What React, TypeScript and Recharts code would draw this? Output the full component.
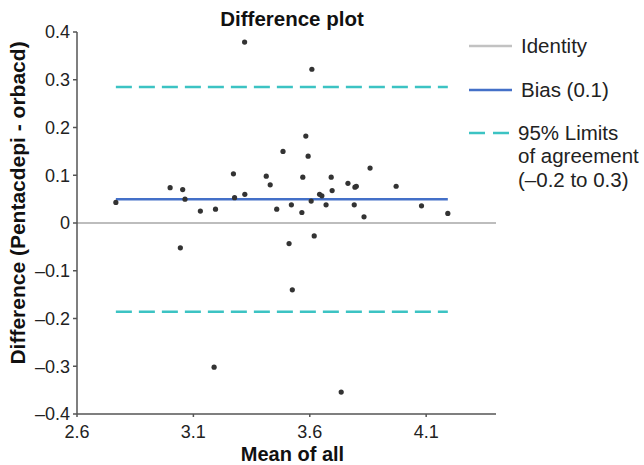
import { ScatterChart, Scatter, XAxis, YAxis, ReferenceLine, Legend, Label } from 'recharts';

// values
const meanOfAll = [
  2.767, 3.0, 3.054, 3.064, 3.13, 3.195, 3.272, 3.277, 3.321, 3.32,
  3.413, 3.43, 3.458, 3.485, 3.521, 3.566, 3.57, 3.583, 3.593, 3.606,
  3.609, 3.642, 3.652, 3.67, 3.692, 3.696, 3.764, 3.791, 3.794, 3.8,
  3.833, 3.859, 3.971, 4.08, 4.193, 3.044, 3.189, 3.511, 3.619, 3.525,
  3.735,
];
const difference = [
  0.043, 0.074, 0.07, 0.05, 0.025, 0.029, 0.103, 0.053, 0.06, 0.379,
  0.098, 0.08, 0.029, 0.15, 0.038, 0.022, 0.096, 0.182, 0.14, 0.046,
  0.322, 0.06, 0.057, 0.038, 0.096, 0.068, 0.083, 0.038, 0.075, 0.077,
  0.013, 0.115, 0.077, 0.036, 0.02, -0.052, -0.302, -0.043, -0.027, -0.14,
  -0.354,
];
const points = meanOfAll.map((x, i) => ({ x, y: difference[i] }));

const xTicks = [2.6, 3.1, 3.6, 4.1];
const yTicks = [-0.4, -0.3, -0.2, -0.1, 0, 0.1, 0.2, 0.3, 0.4];

const bias = 0.05;
const upperLimit = 0.285;
const lowerLimit = -0.186;
const lineStart = 2.767;
const lineEnd = 4.193;

const legendItems = [
  { lines: ['Identity'], color: '#c2c2c2', dash: undefined },
  { lines: ['Bias (0.1)'], color: '#4470c8', dash: undefined },
  { lines: ['95% Limits', 'of agreement', '(–0.2 to 0.3)'], color: '#3cc3c3', dash: '16 8' },
];

const FONT = '"Liberation Sans", Arial, Helvetica, sans-serif';

const fmtY = (v: number) => (v === 0 ? '0' : v < 0 ? '–' + Math.abs(v).toFixed(1) : v.toFixed(1));

const Dot = (props: any) => <circle cx={props.cx} cy={props.cy} r={2.6} fill="#333" />;

const LegendBox = () => (
  <svg width={644} height={465} style={{ fontFamily: FONT }}>
    <text x={292} y={26} textAnchor="middle" fontSize={20.5} fontWeight="bold" fill="#111">
      Difference plot
    </text>
    {legendItems.map((item, i) => {
      const ly = [46, 90, 133][i];
      const tx = i === 2 ? 518 : 521;
      return (
        <g key={i}>
          <line x1={469} x2={512} y1={ly} y2={ly} stroke={item.color} strokeWidth={2.5} strokeDasharray={item.dash} />
          {item.lines.map((t, j) => (
            <text key={j} x={tx} y={ly + 6.5 + j * 23.5} fontSize={20.5} fill="#222">
              {t}
            </text>
          ))}
        </g>
      );
    })}
  </svg>
);

export default function App() {
  return (
    <div style={{ position: 'absolute', left: 0, top: 0, width: 644, height: 465, background: '#fff' }}>
      <ScatterChart width={644} height={465} margin={{ top: 32, right: 148, bottom: 0, left: 0 }}>
        <XAxis
          type="number"
          dataKey="x"
          domain={[2.6, 4.4]}
          ticks={xTicks}
          tickFormatter={(v: number) => v.toFixed(1)}
          height={51}
          stroke="#555"
          strokeWidth={1.5}
          tickSize={3}
          tickMargin={8}
          tick={{ fill: '#222', fontSize: 18, fontFamily: FONT }}
          allowDataOverflow
        >
          <Label
            content={(p: any) => (
              <text
                x={p.viewBox.x + p.viewBox.width / 2 + 6}
                y={p.viewBox.y + 47}
                textAnchor="middle"
                fontSize={20}
                fontWeight="bold"
                fill="#111"
                fontFamily={FONT}
              >
                Mean of all
              </text>
            )}
          />
        </XAxis>
        <YAxis
          type="number"
          dataKey="y"
          domain={[-0.4, 0.4]}
          ticks={yTicks}
          tickFormatter={fmtY}
          width={77}
          stroke="#555"
          strokeWidth={1.5}
          tickSize={4}
          tickMargin={3}
          tick={{ fill: '#222', fontSize: 18, fontFamily: FONT }}
          allowDataOverflow
        >
          <Label
            content={(p: any) => {
              const cx = 25;
              const cy = p.viewBox.y + p.viewBox.height / 2 - 20;
              return (
                <text
                  x={cx}
                  y={cy}
                  transform={`rotate(-90 ${cx} ${cy})`}
                  textAnchor="middle"
                  fontSize={21}
                  fontWeight="bold"
                  fill="#111"
                  fontFamily={FONT}
                >
                  Difference (Pentacdepi - orbacd)
                </text>
              );
            }}
          />
        </YAxis>
        <ReferenceLine y={0} stroke="#bdbdbd" strokeWidth={2} />
        <ReferenceLine
          segment={[{ x: lineStart, y: upperLimit }, { x: lineEnd, y: upperLimit }]}
          stroke="#3cc3c3"
          strokeWidth={2.5}
          strokeDasharray="16 7"
        />
        <ReferenceLine
          segment={[{ x: lineStart, y: lowerLimit }, { x: lineEnd, y: lowerLimit }]}
          stroke="#3cc3c3"
          strokeWidth={2.5}
          strokeDasharray="16 7"
        />
        <ReferenceLine
          segment={[{ x: lineStart, y: bias }, { x: lineEnd, y: bias }]}
          stroke="#4470c8"
          strokeWidth={2.5}
        />
        <Scatter data={points} shape={<Dot />} isAnimationActive={false} />
        <Legend
          layout="horizontal"
          verticalAlign="middle"
          align="center"
          content={() => <LegendBox />}
          wrapperStyle={{ position: 'absolute', left: 0, top: 0, width: 644, height: 465, pointerEvents: 'none' }}
        />
      </ScatterChart>
    </div>
  );
}
